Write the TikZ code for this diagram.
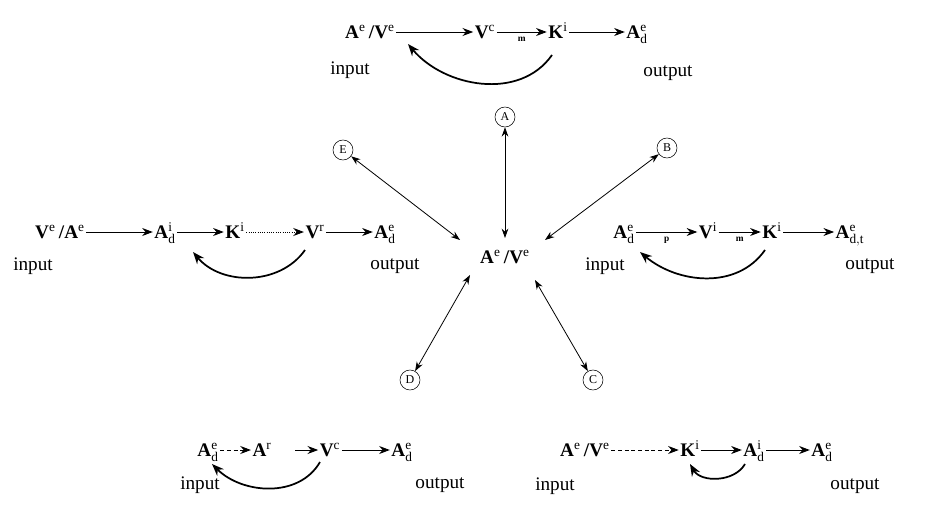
\documentclass[tikz,border=0pt]{standalone}
\usepackage{fontspec}
\setmainfont{Liberation Serif}
\usetikzlibrary{arrows.meta}
\tikzset{
  sp/.style={inner sep=1pt,font=\Large\bfseries,text height=11pt,text depth=1pt},
  lbl/.style={inner sep=1pt,font=\Large},
  tip/.style={-{Stealth[length=8pt,width=6pt]},line width=0.7pt},
  loop/.style={-{Stealth[length=9pt,width=7pt]},line width=1.3pt},
  both/.style={{Stealth[length=7pt,width=5pt]}-{Stealth[length=7pt,width=5pt]},line width=0.6pt},
  marker/.style={circle,draw,inner sep=0.5pt,minimum size=15pt,font=\small}
}
\newcommand{\spc}[2]{\textbf{#1}$^{\mathrm{#2}}$}
\newcommand{\spcd}[3]{\textbf{#1}$^{\mathrm{#2}}_{\mathrm{#3}}$}
\begin{document}
\begin{tikzpicture}[x=0.75pt,y=0.75pt,yscale=-1]
\useasboundingbox (0,0) rectangle (928,521);
% top
\node[sp] (tAV) at (370,32) {\spc{A}{e}\,/\spc{V}{e}};
\node[sp] (tV) at (485,32) {\spc{V}{c}};
\node[sp] (tK) at (558,32) {\spc{K}{i}};
\node[sp] (tA) at (637,32) {\spcd{A}{e}{d}};
\node[lbl] at (350,70) {input};
\node[lbl] at (668,73) {output};
\draw[tip] (tAV) -- (tV);
\draw[tip] (tV) -- node[below,font=\scriptsize\bfseries] {m} (tK);
\draw[tip] (tK) -- (tA);
\draw[loop] (552,55) to[out=125,in=50] (408,44);
% center and markers
\node[sp] (cAV) at (505,257) {\spc{A}{e}\,/\spc{V}{e}};
\node[marker] (mA) at (505,117) {A};
\node[marker] (mB) at (667,148) {B};
\node[marker] (mC) at (593,380) {C};
\node[marker] (mD) at (410,380) {D};
\node[marker] (mE) at (343,150) {E};
\draw[both] (mA) -- (505,238);
\draw[both] (mB) -- (545,240);
\draw[both] (mE) -- (460,240);
\draw[both] (mD) -- (470,275);
\draw[both] (mC) -- (535,280);
% left
\node[sp] (lVA) at (60,232) {\spc{V}{e}\,/\spc{A}{e}};
\node[sp] (lA) at (165,232) {\spcd{A}{i}{d}};
\node[sp] (lK) at (235,232) {\spc{K}{i}};
\node[sp] (lV) at (315,232) {\spc{V}{r}};
\node[sp] (lAd) at (385,232) {\spcd{A}{e}{d}};
\node[lbl] at (33,266) {input};
\node[lbl] at (395,266) {output};
\draw[tip] (lVA) -- (lA);
\draw[tip] (lA) -- (lK);
\draw[tip,densely dotted] (lK) -- (lV);
\draw[tip] (lV) -- (lAd);
\draw[loop] (305,250) to[out=125,in=50] (193,252);
% right
\node[sp] (rA) at (624,232) {\spcd{A}{e}{d}};
\node[sp] (rV) at (708,232) {\spc{V}{i}};
\node[sp] (rK) at (772,232) {\spc{K}{i}};
\node[sp] (rAt) at (850,232) {\spcd{A}{e}{d,t}};
\node[lbl] at (605,266) {input};
\node[lbl] at (870,266) {output};
\draw[tip] (rA) -- node[below,font=\scriptsize\bfseries] {p} (rV);
\draw[tip] (rV) -- node[below,font=\scriptsize\bfseries] {m} (rK);
\draw[tip] (rK) -- (rAt);
\draw[loop] (765,250) to[out=125,in=40] (640,252);
% bottom left
\node[sp] (bA) at (208,450) {\spcd{A}{e}{d}};
\node[sp] (bAr) at (262,450) {\spc{A}{r}};
\node[sp] (bV) at (330,450) {\spc{V}{c}};
\node[sp] (bAd) at (402,450) {\spcd{A}{e}{d}};
\node[lbl] at (200,485) {input};
\node[lbl] at (440,485) {output};
\coordinate (bGap) at (295,450);
\draw[tip,densely dashed] (bA) -- (bAr);
\draw[tip] (bGap) -- (bV);
\draw[tip] (bV) -- (bAd);
\draw[loop] (320,462) to[out=120,in=45] (212,464);
% bottom right
\node[sp] (brAV) at (585,450) {\spc{A}{e}\,/\spc{V}{e}};
\node[sp] (brK) at (690,450) {\spc{K}{i}};
\node[sp] (brA) at (754,450) {\spcd{A}{i}{d}};
\node[sp] (brAd) at (822,450) {\spcd{A}{e}{d}};
\node[lbl] at (555,486) {input};
\node[lbl] at (855,486) {output};
\draw[tip,densely dashed] (brAV) -- (brK);
\draw[tip] (brK) -- (brA);
\draw[tip] (brA) -- (brAd);
\draw[loop] (745,464) to[out=120,in=60] (690,464);
\end{tikzpicture}
\end{document}
